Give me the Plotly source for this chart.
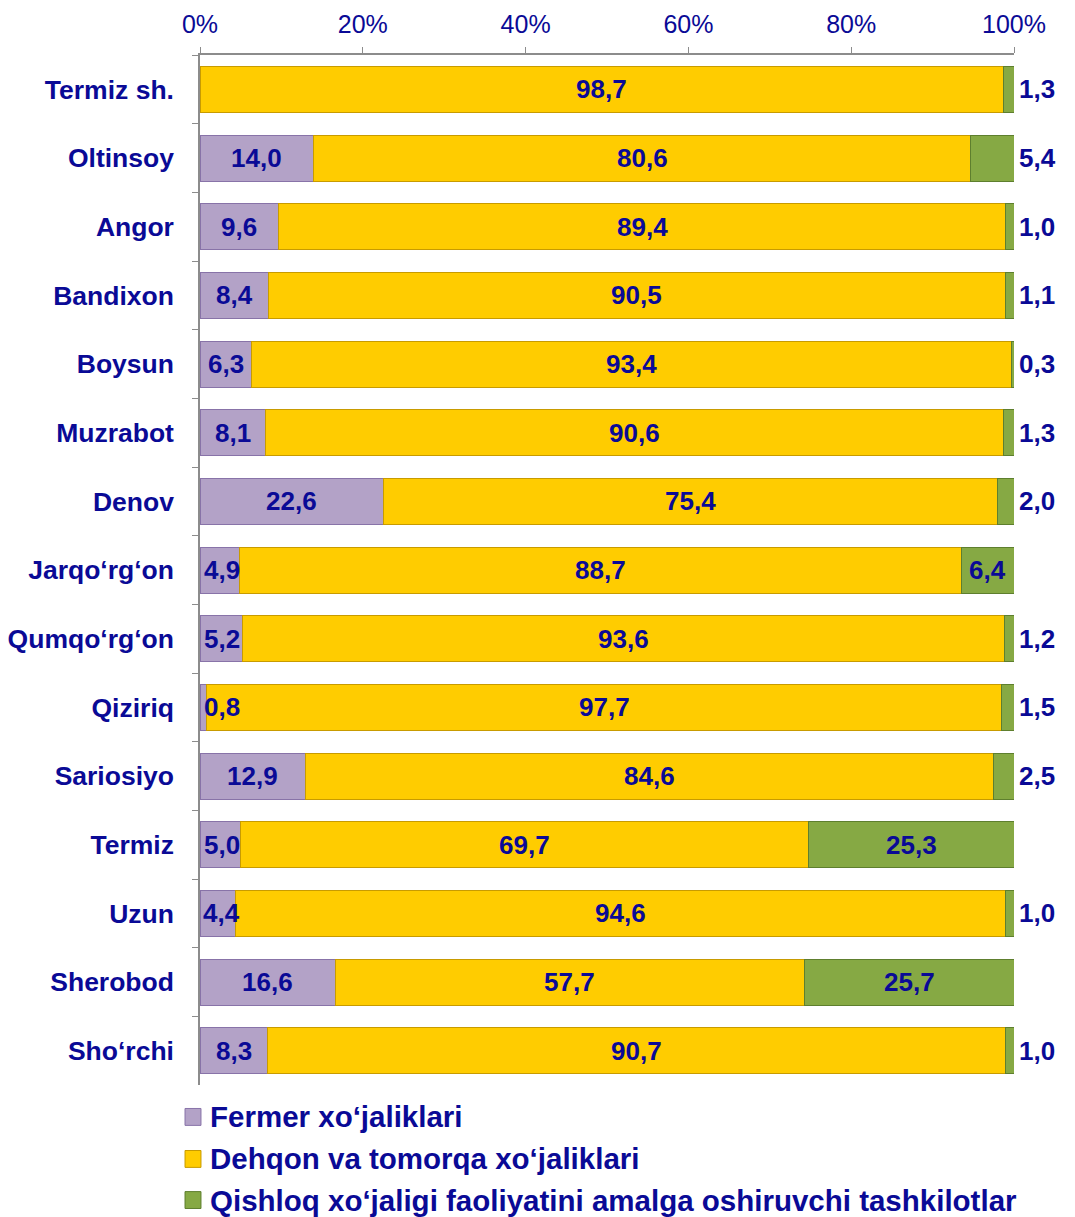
import plotly.graph_objects as go

# Districts (top to bottom) and shares, %
districts = ["Termiz sh.", "Oltinsoy", "Angor", "Bandixon", "Boysun", "Muzrabot", "Denov",
             "Jarqo‘rg‘on", "Qumqo‘rg‘on", "Qiziriq", "Sariosiyo", "Termiz", "Uzun",
             "Sherobod", "Sho‘rchi"]
fermer = [0.0, 14.0, 9.6, 8.4, 6.3, 8.1, 22.6, 4.9, 5.2, 0.8, 12.9, 5.0, 4.4, 16.6, 8.3]
dehqon = [98.7, 80.6, 89.4, 90.5, 93.4, 90.6, 75.4, 88.7, 93.6, 97.7, 84.6, 69.7, 94.6, 57.7, 90.7]
tashkilot = [1.3, 5.4, 1.0, 1.1, 0.3, 1.3, 2.0, 6.4, 1.2, 1.5, 2.5, 25.3, 1.0, 25.7, 1.0]

names = ["Fermer xo‘jaliklari", "Dehqon va tomorqa xo‘jaliklari",
         "Qishloq xo‘jaligi faoliyatini amalga oshiruvchi tashkilotlar"]

NAVY = "#0A0A96"
FONT = "Liberation Sans, Arial, sans-serif"

def fmt(v):
    return f"{v:.1f}".replace(".", ",")

fig = go.Figure()
series = [
    (fermer, "#B3A2C7", "#8873A8"),
    (dehqon, "#FFCC00", "#C89B00"),
    (tashkilot, "#86A944", "#5E7F2E"),
]
for i, (vals, col, edge) in enumerate(series):
    fig.add_trace(go.Bar(
        y=districts, x=vals, orientation="h", name=names[i],
        marker=dict(color=col, line=dict(color=edge, width=1)),
        hoverinfo="x+y", showlegend=False,
    ))

# value labels
lab_font = dict(family=FONT, size=26, color=NAVY)
for d, f, h, t in zip(districts, fermer, dehqon, tashkilot):
    if f > 0:
        fig.add_annotation(x=max(f / 2, 2.7), y=d, text=f"<b>{fmt(f)}</b>",
                           showarrow=False, font=lab_font)
    fig.add_annotation(x=f + h / 2, y=d, text=f"<b>{fmt(h)}</b>",
                       showarrow=False, font=lab_font)
    if t >= 6:
        fig.add_annotation(x=f + h + t / 2, y=d, text=f"<b>{fmt(t)}</b>",
                           showarrow=False, font=lab_font)
    else:
        fig.add_annotation(x=100, y=d, text=f"<b>{fmt(t)}</b>", showarrow=False,
                           xanchor="left", xshift=3, font=lab_font)

# legend drawn by hand below the plot (plotly's legend would push the margin)
leg_y = [-0.031, -0.0718, -0.1117]
for i, (vals, col, edge) in enumerate(series):
    fig.add_shape(type="rect", xref="paper", yref="paper",
                  x0=-0.0184, x1=0.0012, y0=leg_y[i] - 0.0082, y1=leg_y[i] + 0.0082,
                  fillcolor=col, line=dict(color=edge, width=1))
    fig.add_annotation(xref="paper", yref="paper", x=0.0098, y=leg_y[i],
                       xanchor="left", yanchor="middle", showarrow=False,
                       text=f"<b>{names[i]}</b>",
                       font=dict(family=FONT, size=29.5, color=NAVY))

fig.update_layout(
    barmode="stack",
    bargap=0.33,
    width=1075, height=1217,
    margin=dict(l=192, r=69, t=47, b=140),
    plot_bgcolor="white", paper_bgcolor="white",
    font=dict(family=FONT, color=NAVY),
    showlegend=False,
    xaxis=dict(
        side="top", range=[0, 100], tickvals=[0, 20, 40, 60, 80, 100],
        ticktext=["0%", "20%", "40%", "60%", "80%", "100%"],
        tickfont=dict(family=FONT, size=25, color=NAVY),
        showgrid=False, zeroline=False, showline=True, linecolor="#8C8C8C",
        linewidth=1.5, ticks="outside", ticklen=6, tickcolor="#8C8C8C",
        ticklabelstandoff=4, automargin=False,
    ),
    yaxis=dict(
        autorange="reversed", showgrid=False, showline=True, linecolor="#8C8C8C",
        linewidth=1.5, ticks="outside", ticklen=6, tickcolor="#8C8C8C",
        tickson="boundaries", ticklabelstandoff=19, automargin=False,
        tickfont=dict(family=FONT, size=26.5, color=NAVY, weight="bold"),
    ),
)

fig.write_html("out.html")
